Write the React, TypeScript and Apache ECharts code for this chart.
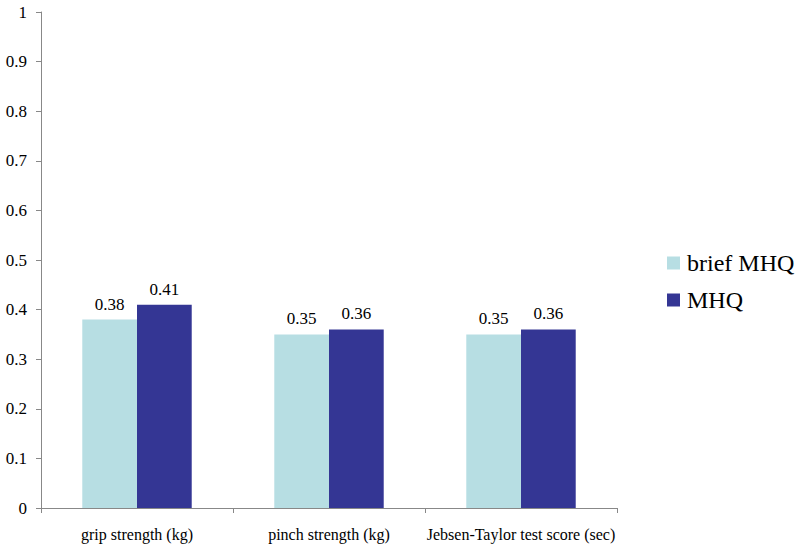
import React, { useEffect, useRef } from "react";
import * as echarts from "echarts";

const categories = ["grip strength (kg)", "pinch strength (kg)", "Jebsen-Taylor test score (sec)"];
const briefMHQ = [0.38, 0.35, 0.35];
const MHQ = [0.41, 0.36, 0.36];
const seriesNames = ["brief MHQ", "MHQ"];

const FONT = "Liberation Serif";

export default function App() {
  const ref = useRef<HTMLDivElement>(null);
  useEffect(() => {
    if (!ref.current) return;
    const chart = echarts.init(ref.current, undefined, { renderer: "svg" });
    const labelCfg = {
      show: true,
      position: "top" as const,
      distance: 7,
      color: "#000",
      fontFamily: FONT,
      fontSize: 17,
    };
    chart.setOption({
      animation: false,
      backgroundColor: "#fff",
      textStyle: { fontFamily: FONT },
      grid: { left: 41, top: 12, right: 183, bottom: 39, containLabel: false },
      legend: {
        orient: "vertical",
        left: 662,
        top: 246,
        itemWidth: 13,
        itemHeight: 13,
        itemGap: 13,
        icon: "rect",
        textStyle: { fontFamily: FONT, fontSize: 24, color: "#000", padding: [0, 0, 0, 2] },
        data: seriesNames,
      },
      xAxis: {
        type: "category",
        data: categories,
        axisLine: { lineStyle: { color: "#888", width: 1 } },
        axisTick: { show: true, length: 5, lineStyle: { color: "#888" } },
        axisLabel: { color: "#000", fontFamily: FONT, fontSize: 16, margin: 18, interval: 0, hideOverlap: false },
        splitLine: { show: false },
      },
      yAxis: {
        type: "value",
        min: 0,
        max: 1,
        interval: 0.1,
        axisLine: { show: true, lineStyle: { color: "#888", width: 1 } },
        axisTick: { show: true, length: 5, lineStyle: { color: "#888" } },
        axisLabel: { color: "#000", fontFamily: FONT, fontSize: 17, margin: 14 },
        splitLine: { show: false },
      },
      series: [
        {
          name: seriesNames[0],
          type: "bar",
          data: briefMHQ,
          barGap: "0%",
          barCategoryGap: "43%",
          itemStyle: { color: "#B7DEE3" },
          label: labelCfg,
        },
        {
          name: seriesNames[1],
          type: "bar",
          data: MHQ,
          barGap: "0%",
          barCategoryGap: "43%",
          itemStyle: { color: "#343694" },
          label: labelCfg,
        },
      ],
    });
    return () => chart.dispose();
  }, []);
  return <div ref={ref} style={{ width: 800, height: 547, position: "absolute", left: 0, top: 0 }} />;
}
